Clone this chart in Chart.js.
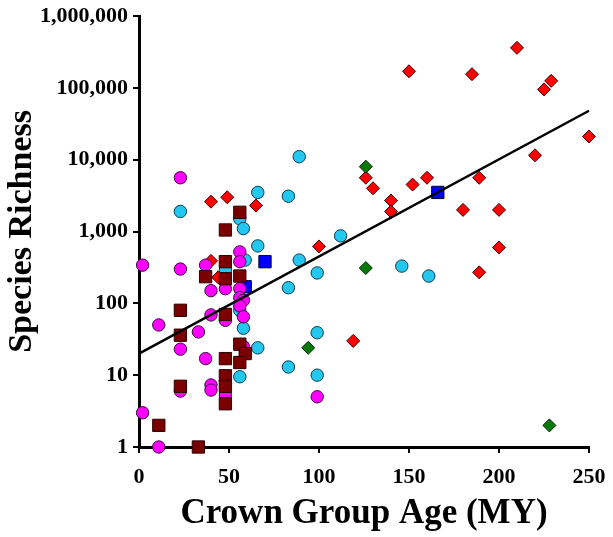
<!DOCTYPE html>
<html>
<head>
<meta charset="utf-8">
<title>Species Richness vs Crown Group Age</title>
<script src="https://cdn.jsdelivr.net/npm/chart.js@4.4.1/dist/chart.umd.min.js"></script>
<style>
  html, body { margin: 0; padding: 0; background: #fff; }
  #grafico { display: block; }
</style>
</head>
<body>
<canvas id="grafico" width="613" height="537"></canvas>
<script>
// red diamonds
const redX = [40, 49, 65, 40, 44, 100, 119, 126, 130, 140, 140, 150, 152, 160, 185, 180, 189, 189, 200, 200, 210, 225, 229, 220, 250];
const redY = [2600, 3000, 2300, 390, 230, 620, 30, 5600, 4000, 2700, 1900, 170000, 4500, 5600, 155000, 2000, 5600, 270, 2000, 600, 360000, 95000, 125000, 11500, 21000];

// green diamonds
const greenX = [126, 126, 94, 228];
const greenY = [8000, 310, 24, 2];

// blue squares
const blueX = [166, 70, 59];
const blueY = [3500, 380, 170];

// cyan circles
const cyanX = [23, 66, 83, 89, 56, 58, 66, 59, 112, 89, 99, 83, 146, 161, 99, 83, 99, 56, 58, 66, 56, 48];
const cyanY = [1900, 3500, 3100, 11000, 1500, 1100, 630, 400, 870, 400, 265, 165, 330, 240, 39, 13, 10, 80, 45, 24, 9.5, 290];

// magenta circles
const magX = [23, 56, 2, 23, 37, 56, 40, 48, 56, 56, 58, 56, 11, 33, 40, 48, 58, 23, 37, 58, 23, 40, 40, 48, 2, 11, 99];
const magY = [5600, 520, 340, 300, 340, 380, 150, 160, 160, 120, 110, 92, 50, 40, 69, 58, 65, 23, 17, 25, 6, 7.3, 6.2, 5.3, 3, 1, 5];

// dark red squares
const darkX = [56, 48, 48, 37, 48, 56, 23, 23, 48, 56, 59, 48, 56, 48, 48, 23, 48, 11, 33];
const darkY = [1850, 1050, 380, 235, 220, 240, 80, 36, 70, 27, 20, 17, 15, 9.8, 7, 7, 4, 2, 1];

// regression line
const fitX = [0, 250];
const fitY = [20, 48000];

const yTicks = [1, 10, 100, 1000, 10000, 100000, 1000000];
const xTicks = [0, 50, 100, 150, 200, 250];

function puntos(xs, ys) {
  return xs.map((x, i) => ({ x: x, y: ys[i] }));
}

function conComas(v) {
  return String(v).replace(/\B(?=(\d{3})+(?!\d))/g, ",");
}

const fuente = "'Liberation Serif', 'Times New Roman', serif";

function serie(data, estilo, radio, fondo, borde) {
  return {
    data: data,
    pointStyle: estilo,
    pointRadius: radio,
    pointHoverRadius: radio,
    pointBackgroundColor: fondo,
    pointBorderColor: borde,
    pointBorderWidth: 1,
    showLine: false,
    clip: false
  };
}

// first dataset is drawn on top
const datasets = [
  {
    type: "line",
    data: puntos(fitX, fitY),
    borderColor: "#000",
    borderWidth: 2.5,
    pointRadius: 0,
    fill: false,
    clip: false
  },
  serie(puntos(darkX, darkY), "rect", 8.7, "#7a0000", "#2a0000"),
  serie(puntos(magX, magY), "circle", 6.2, "#ff00ff", "#3a0a3a"),
  serie(puntos(blueX, blueY), "rect", 8.7, "#0000ff", "#00003a"),
  serie(puntos(cyanX, cyanY), "circle", 6.2, "#22c8ef", "#0d3a4a"),
  serie(puntos(greenX, greenY), "rectRot", 6.5, "#087808", "#032a03"),
  serie(puntos(redX, redY), "rectRot", 6.5, "#ff0000", "#3a0000")
];

new Chart(document.getElementById("grafico"), {
  type: "scatter",
  data: { datasets: datasets },
  options: {
    responsive: false,
    animation: false,
    events: [],
    layout: { padding: { top: 16, right: 24, left: 0, bottom: 0 } },
    plugins: { legend: { display: false }, tooltip: { enabled: false } },
    scales: {
      x: {
        type: "linear",
        min: 0,
        max: 250,
        afterBuildTicks: s => { s.ticks = xTicks.map(v => ({ value: v })); },
        afterFit: s => { s.height = 90; s.paddingLeft = 0; s.paddingRight = 0; },
        grid: { drawOnChartArea: false, drawTicks: true, tickLength: 6, color: "#000", lineWidth: 2 },
        border: { display: true, color: "#000", width: 3 },
        ticks: {
          color: "#000",
          padding: 11,
          maxRotation: 0,
          font: { family: fuente, size: 22, weight: "bold" }
        },
        title: {
          display: true,
          text: "Crown Group Age (MY)",
          color: "#000",
          padding: { top: 0, bottom: 2 },
          font: { family: fuente, size: 35, weight: "bold" }
        }
      },
      y: {
        type: "logarithmic",
        min: 1,
        max: 1000000,
        afterBuildTicks: s => { s.ticks = yTicks.map(v => ({ value: v })); },
        afterFit: s => { s.width = 139; s.paddingTop = 0; s.paddingBottom = 0; },
        grid: { drawOnChartArea: false, drawTicks: true, tickLength: 6, color: "#000", lineWidth: 2 },
        border: { display: true, color: "#000", width: 3 },
        ticks: {
          color: "#000",
          padding: 5,
          callback: v => conComas(v),
          font: { family: fuente, size: 22, weight: "bold" }
        },
        title: {
          display: true,
          text: "Species Richness",
          color: "#000",
          padding: { top: 2, bottom: 0 },
          font: { family: fuente, size: 34, weight: "bold" }
        }
      }
    }
  }
});
</script>
</body>
</html>
